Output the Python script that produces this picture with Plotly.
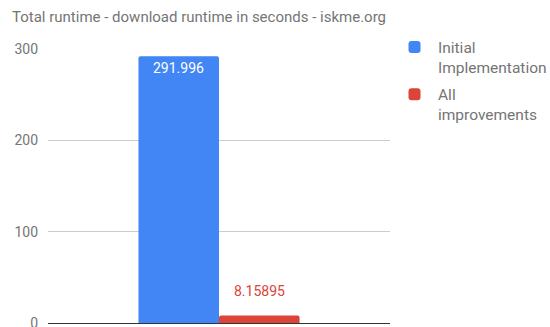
import plotly.graph_objects as go

# Runtime figures (seconds)
categories = ["iskme.org"]
series_names = ["Initial<br>Implementation", "All<br>improvements"]
series_values = [[291.996], [8.15895]]
series_labels = ["291.996", "8.15895"]
series_colors = ["#4285F4", "#DB4437"]
y_ticks = [0, 100, 200, 300]

fig = go.Figure()
for i, (name, vals, color) in enumerate(zip(series_names, series_values, series_colors)):
    fig.add_trace(go.Bar(
        x=categories, y=vals, name=name, legendgroup=f"g{i}",
        marker=dict(color=color, line=dict(width=0), cornerradius=2),
    ))

# value labels: white inside the tall bar, coloured above the short one
fig.add_annotation(x=categories[0], y=series_values[0][0], text=series_labels[0],
                   xref="x", yref="y", showarrow=False, xshift=-40.25,
                   yanchor="top", yshift=-2,
                   font=dict(family="Roboto", size=14, color="#ffffff"))
fig.add_annotation(x=categories[0], y=series_values[1][0], text=series_labels[1],
                   xref="x", yref="y", showarrow=False, xshift=40.25,
                   yanchor="bottom", yshift=15,
                   font=dict(family="Roboto", size=14, color="#DB4437"))

fig.update_layout(
    width=550, height=327,
    margin=dict(l=48, r=160, t=49, b=4),
    paper_bgcolor="white", plot_bgcolor="white",
    barmode="group", bargap=0.529, bargroupgap=0.0,
    font=dict(family="Roboto", size=14, color="#757575"),
    title=dict(text="Total runtime - download runtime in seconds - iskme.org",
               x=12 / 550, xanchor="left", y=1 - 17 / 327, yanchor="middle",
               font=dict(family="Roboto", size=15, color="#757575")),
    xaxis=dict(showticklabels=False, showgrid=False, zeroline=False,
               showline=False, ticks="", automargin=False),
    yaxis=dict(range=[0, 300], tickvals=y_ticks, showgrid=True,
               gridcolor="#cccccc", gridwidth=1, zeroline=True,
               zerolinecolor="#333333", zerolinewidth=1,
               tickfont=dict(family="Roboto", size=14, color="#757575"),
               ticks="", ticklabelstandoff=9, ticklabeloverflow="allow",
               automargin=False),
    legend=dict(xref="container", yref="container",
                x=391 / 550, xanchor="left", y=1 - 30.4 / 327, yanchor="top",
                font=dict(family="Roboto", size=15.5, color="#757575"),
                traceorder="grouped", tracegroupgap=4, itemwidth=37,
                valign="top", bgcolor="rgba(0,0,0,0)"),
    showlegend=True,
)

fig.write_html("out.html")
